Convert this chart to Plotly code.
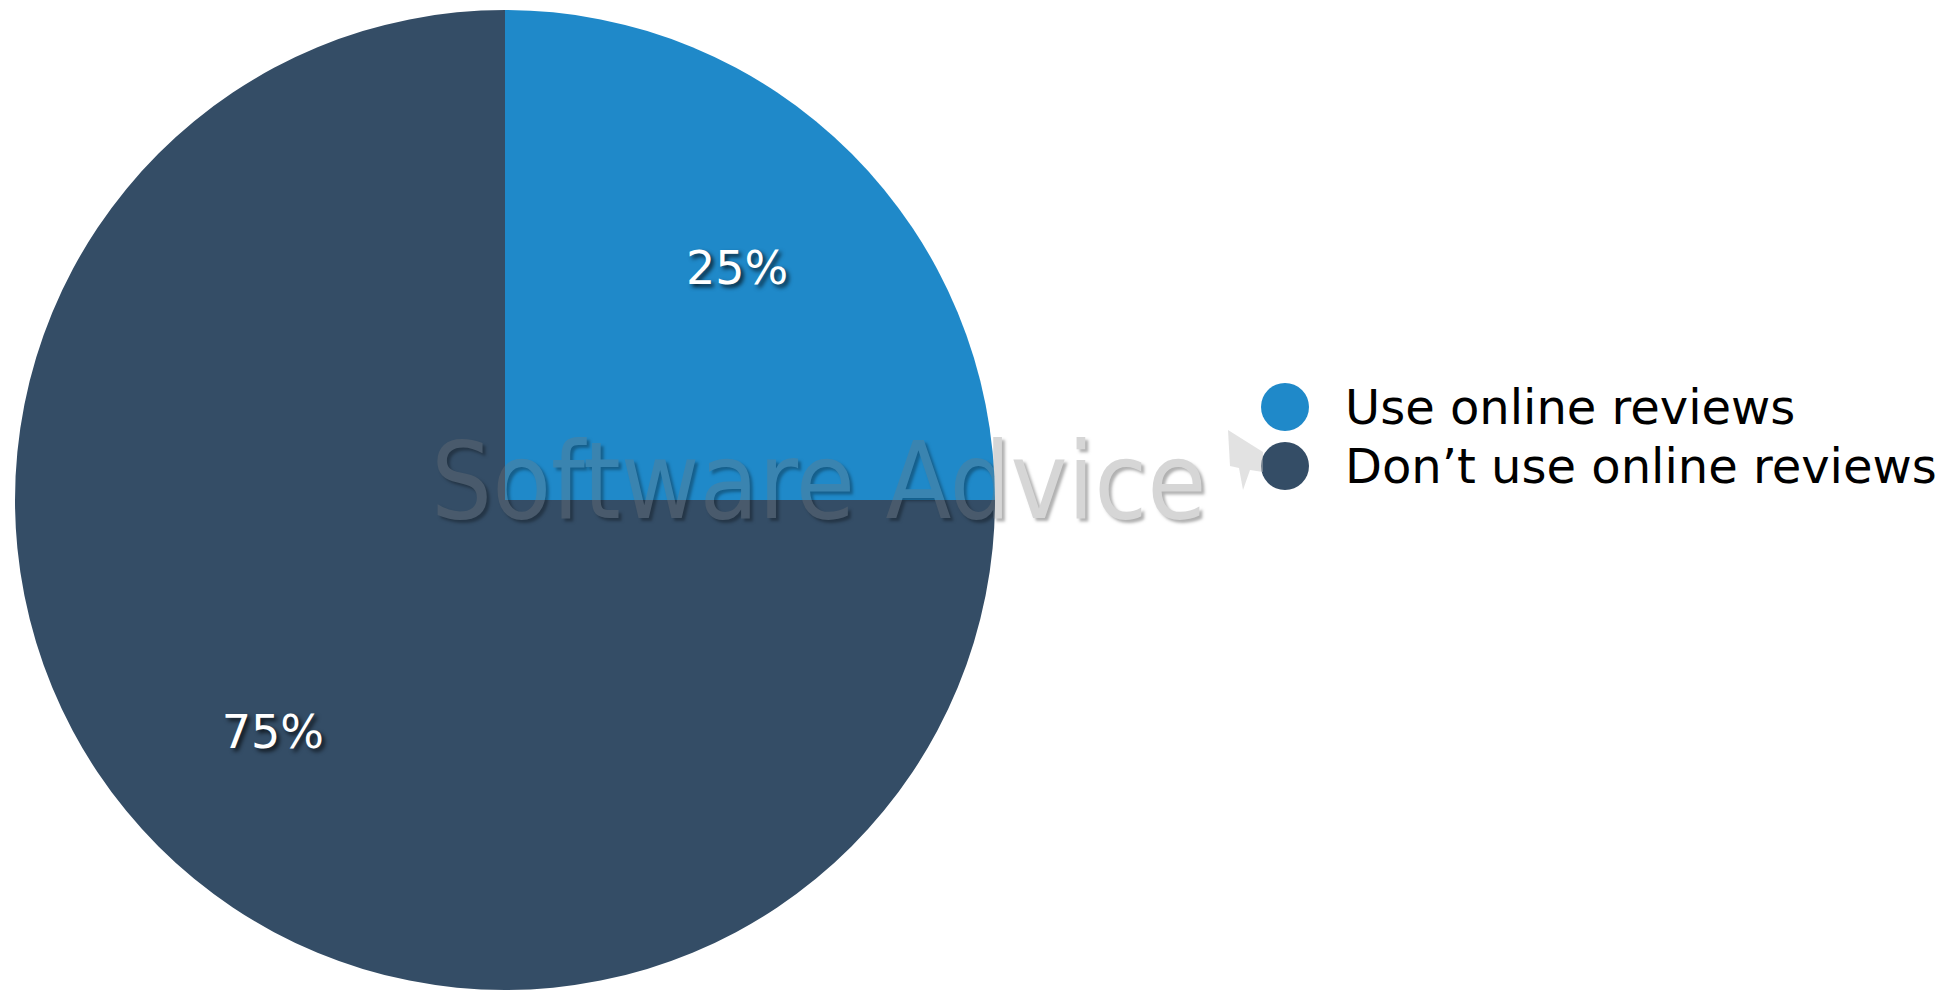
import plotly.graph_objects as go

# Survey split
categories = ["Use online reviews", "Don\u2019t use online reviews"]
shares = [25, 75]
colors = ["#1f89c9", "#344d66"]

W, H = 1958, 990


def fx(x):
    return x / W


def fy(y):
    return 1 - y / H


# Pie geometry: centre (505, 500), radius 490 px
cx, cy, rad = 505, 500, 490
pie_domain = dict(x=[fx(cx - rad), fx(cx + rad)], y=[fy(cy + rad), fy(cy - rad)])

fig = go.Figure()

# Filled slices
fig.add_trace(go.Pie(
    labels=categories, values=shares, sort=False, direction="clockwise",
    rotation=0, marker=dict(colors=colors, line=dict(width=0)),
    textinfo="none", hoverinfo="label+percent", showlegend=False,
    domain=pie_domain,
))

# Transparent ring that carries the percentage labels a little further out
fig.add_trace(go.Pie(
    labels=categories, values=shares, sort=False, direction="clockwise",
    rotation=0, hole=0.34,
    marker=dict(colors=["rgba(0,0,0,0)"] * len(shares), line=dict(width=0)),
    textinfo="percent", textposition="inside", insidetextorientation="horizontal",
    textfont=dict(family="DejaVu Sans", size=46, color="white",
                  shadow="3px 3px 4px rgba(0,0,0,0.75)"),
    hoverinfo="skip", showlegend=False, domain=pie_domain,
))

# Legend drawn as large circles with labels
rows = list(range(len(categories)))
fig.add_trace(go.Scatter(
    x=[0] * len(rows), y=rows, mode="markers",
    marker=dict(size=48, color=colors, line=dict(width=0)),
    hoverinfo="skip", showlegend=False, cliponaxis=False,
))
fig.add_trace(go.Scatter(
    x=[1] * len(rows), y=rows, mode="text", text=categories,
    textposition="middle right", yaxis="y2",
    textfont=dict(family="DejaVu Sans", size=48, color="black"),
    hoverinfo="skip", showlegend=False, cliponaxis=False,
))

unit = 60       # px per legend x unit
leg_left = 1225
row_gap = 59
row0 = 407
text_drop = 5   # baseline nudge so the labels sit centred on the circles


def row_domain(shift):
    return [fy(row0 + 1.5 * row_gap + shift), fy(row0 - 0.5 * row_gap + shift)]


fig.update_layout(
    width=W, height=H,
    margin=dict(l=0, r=0, t=0, b=0),
    paper_bgcolor="white", plot_bgcolor="rgba(0,0,0,0)",
    xaxis=dict(domain=[fx(leg_left), 1.0], range=[-1, (W - leg_left) / unit - 1],
               visible=False, fixedrange=True),
    yaxis=dict(domain=row_domain(0), range=[1.5, -0.5], visible=False, fixedrange=True),
    yaxis2=dict(domain=row_domain(text_drop), range=[1.5, -0.5], anchor="x",
                visible=False, fixedrange=True),
    annotations=[dict(
        text="Software Advice", x=fx(818), y=fy(481), xref="paper", yref="paper",
        xanchor="center", yanchor="middle", showarrow=False, opacity=0.3,
        font=dict(family="DejaVu Sans Condensed, DejaVu Sans", size=107,
                  color="#7a7a7a", shadow="3px 3px 3px #000"),
    )],
    shapes=[dict(
        type="path", xref="paper", yref="paper", layer="above",
        path=("M {} {} L {} {} L {} {} L {} {} L {} {} L {} {} L {} {} Z".format(
            fx(1228), fy(430), fx(1263), fy(452), fx(1263), fy(472),
            fx(1250), fy(470), fx(1243), fy(490), fx(1239), fy(468),
            fx(1230), fy(466))),
        fillcolor="rgba(190,190,190,0.45)", line=dict(width=0),
    )],
)

fig.write_html("out.html")
